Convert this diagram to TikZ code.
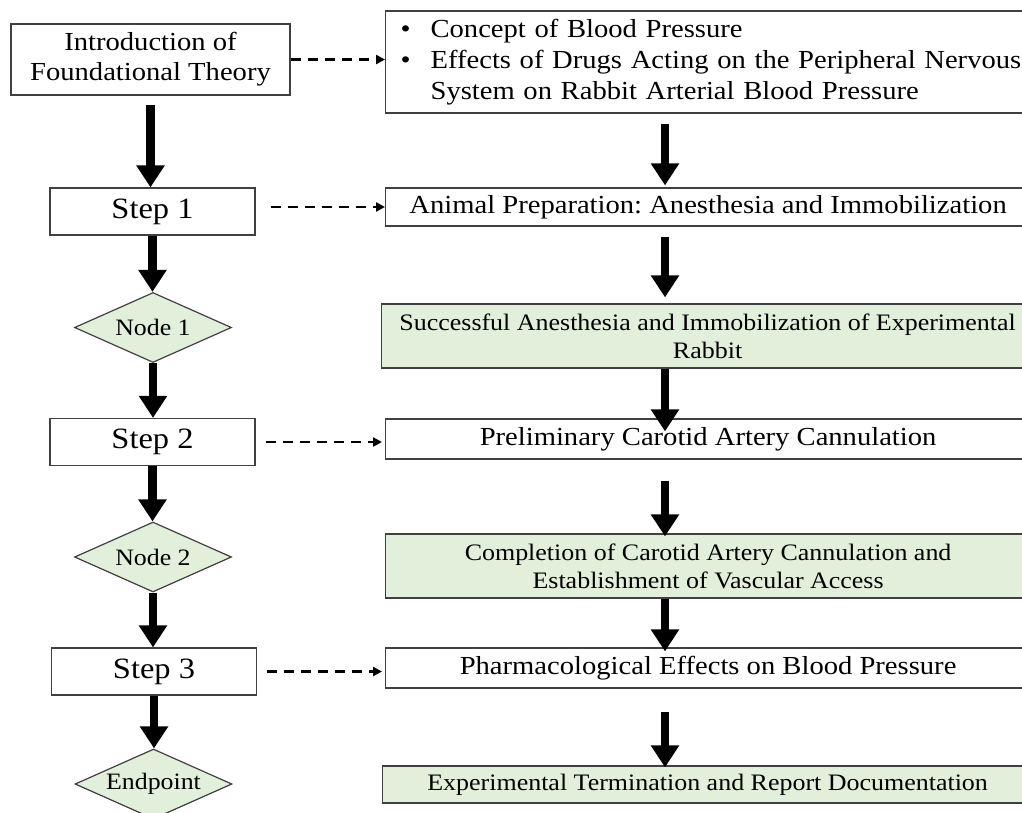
\documentclass[tikz,border=0pt]{standalone}
\usepackage{fontspec}
\setmainfont{Liberation Serif}[FakeStretch=1.10]
\usepackage{xcolor}
\definecolor{stageGreen}{RGB}{226, 239, 218}
\definecolor{frameGray}{RGB}{64, 64, 64}
\usetikzlibrary{shapes.geometric, arrows.meta}
\frenchspacing

\begin{document}
\begin{tikzpicture}[x=1pt, y=-1pt,
  intro/.style={rectangle, draw=frameGray, line width=1.2pt, fill=white,
                minimum width=279pt, minimum height=71pt,
                align=center, font=\fontsize{26}{30}\selectfont},
  stepbox/.style={rectangle, draw=frameGray, line width=1.2pt,
                  minimum width=205pt, minimum height=47pt,
                  font=\fontsize{29.5}{34}\selectfont},
  gate/.style={diamond, aspect=2.24, draw=frameGray, line width=1.2pt,
               fill=stageGreen, minimum width=157pt, minimum height=70pt,
               inner sep=0pt, font=\fontsize{23.5}{26}\selectfont},
  task/.style={rectangle, draw=frameGray, line width=1.2pt, anchor=west,
               minimum width=645pt, align=center,
               font=\fontsize{26}{31}\selectfont},
  milestone/.style={task, fill=stageGreen, font=\fontsize{23.6}{28}\selectfont},
  fat/.style={line width=8.5pt, -{Triangle[length=22pt, width=27pt]}},
  link/.style={line width=2.8pt, dash pattern=on 10pt off 7pt,
               -{Triangle[length=9pt, width=9pt]}},
]
  \useasboundingbox (0,0) rectangle (1022,812);
  \clip (0,0) rectangle (1022,812);

  % left column
  \node[intro] (theory) at (150.5,59.5) {Introduction of\\Foundational Theory};
  \node[stepbox] (step1) at (152.5,211.5) {Step 1};
  \node[gate] (node1) at (153,327.5) {Node 1};
  \node[stepbox] (step2) at (152.5,442) {Step 2};
  \node[gate] (node2) at (153,557) {Node 2};
  \node[stepbox] (step3) at (154,671.5) {Step 3};
  \node[gate] (endpt) at (153.5,784) {Endpoint};

  % right column
  \node[task, minimum height=102pt, align=left, text width=640pt,
        inner xsep=15pt] (concept) at (385,62)
    {\makebox[30pt][l]{\textbullet}Concept of Blood Pressure\\
     \makebox[30pt][l]{\textbullet}Effects of Drugs Acting on the Peripheral Nervous\\
     \hspace*{30pt}System on Rabbit Arterial Blood Pressure};
  \node[task, minimum height=38pt] (prep) at (385,207)
    {Animal Preparation: Anesthesia and Immobilization};
  \node[milestone, minimum height=64pt, minimum width=652pt] (fixed) at (381,336)
    {Successful Anesthesia and Immobilization of Experimental\\Rabbit};
  \node[task, minimum height=40pt] (prelim) at (385,439)
    {Preliminary Carotid Artery Cannulation};
  \node[milestone, minimum height=64pt] (access) at (385,566)
    {Completion of Carotid Artery Cannulation and\\Establishment of Vascular Access};
  \node[task, minimum height=40pt] (pharm) at (385,668)
    {Pharmacological Effects on Blood Pressure};
  \node[milestone, minimum height=37pt, minimum width=650pt] (report) at (382,784.5)
    {Experimental Termination and Report Documentation};

  % main flow
  \draw[fat, shorten <=9pt] (theory.south) -- (theory.south |- step1.north);
  \draw[fat] (step1.south) -- (step1.south |- node1.north);
  \draw[fat] (node1.south) -- (node1.south |- step2.north);
  \draw[fat] (step2.south) -- (step2.south |- node2.north);
  \draw[fat] (node2.south) -- (node2.south |- step3.north);
  \draw[fat] (step3.south) -- (step3.south |- endpt.north);

  \coordinate (spine) at (665,0);
  \draw[fat, shorten <=10pt, shorten >=2pt] (spine |- concept.south) -- (spine |- prep.north);
  \draw[fat, shorten <=10pt, shorten >=6pt] (spine |- prep.south) -- (spine |- fixed.north);
  \draw[fat, shorten >=-13pt] (spine |- fixed.south) -- (spine |- prelim.north);
  \draw[fat, shorten <=21pt, shorten >=-3pt] (spine |- prelim.south) -- (spine |- access.north);
  \draw[fat, shorten >=-4pt] (spine |- access.south) -- (spine |- pharm.north);
  \draw[fat, shorten <=23pt, shorten >=-2pt] (spine |- pharm.south) -- (spine |- report.north);

  % details
  \draw[link] (theory.east) -- (theory.east -| concept.west);
  \draw[link, shorten <=15pt] (step1.east |- prep.west) -- (prep.west);
  \draw[link, shorten <=10pt, shorten >=3pt] (step2.east) -- (step2.east -| prelim.west);
  \draw[link, shorten <=10pt, shorten >=3pt] (step3.east) -- (step3.east -| pharm.west);
\end{tikzpicture}
\end{document}
